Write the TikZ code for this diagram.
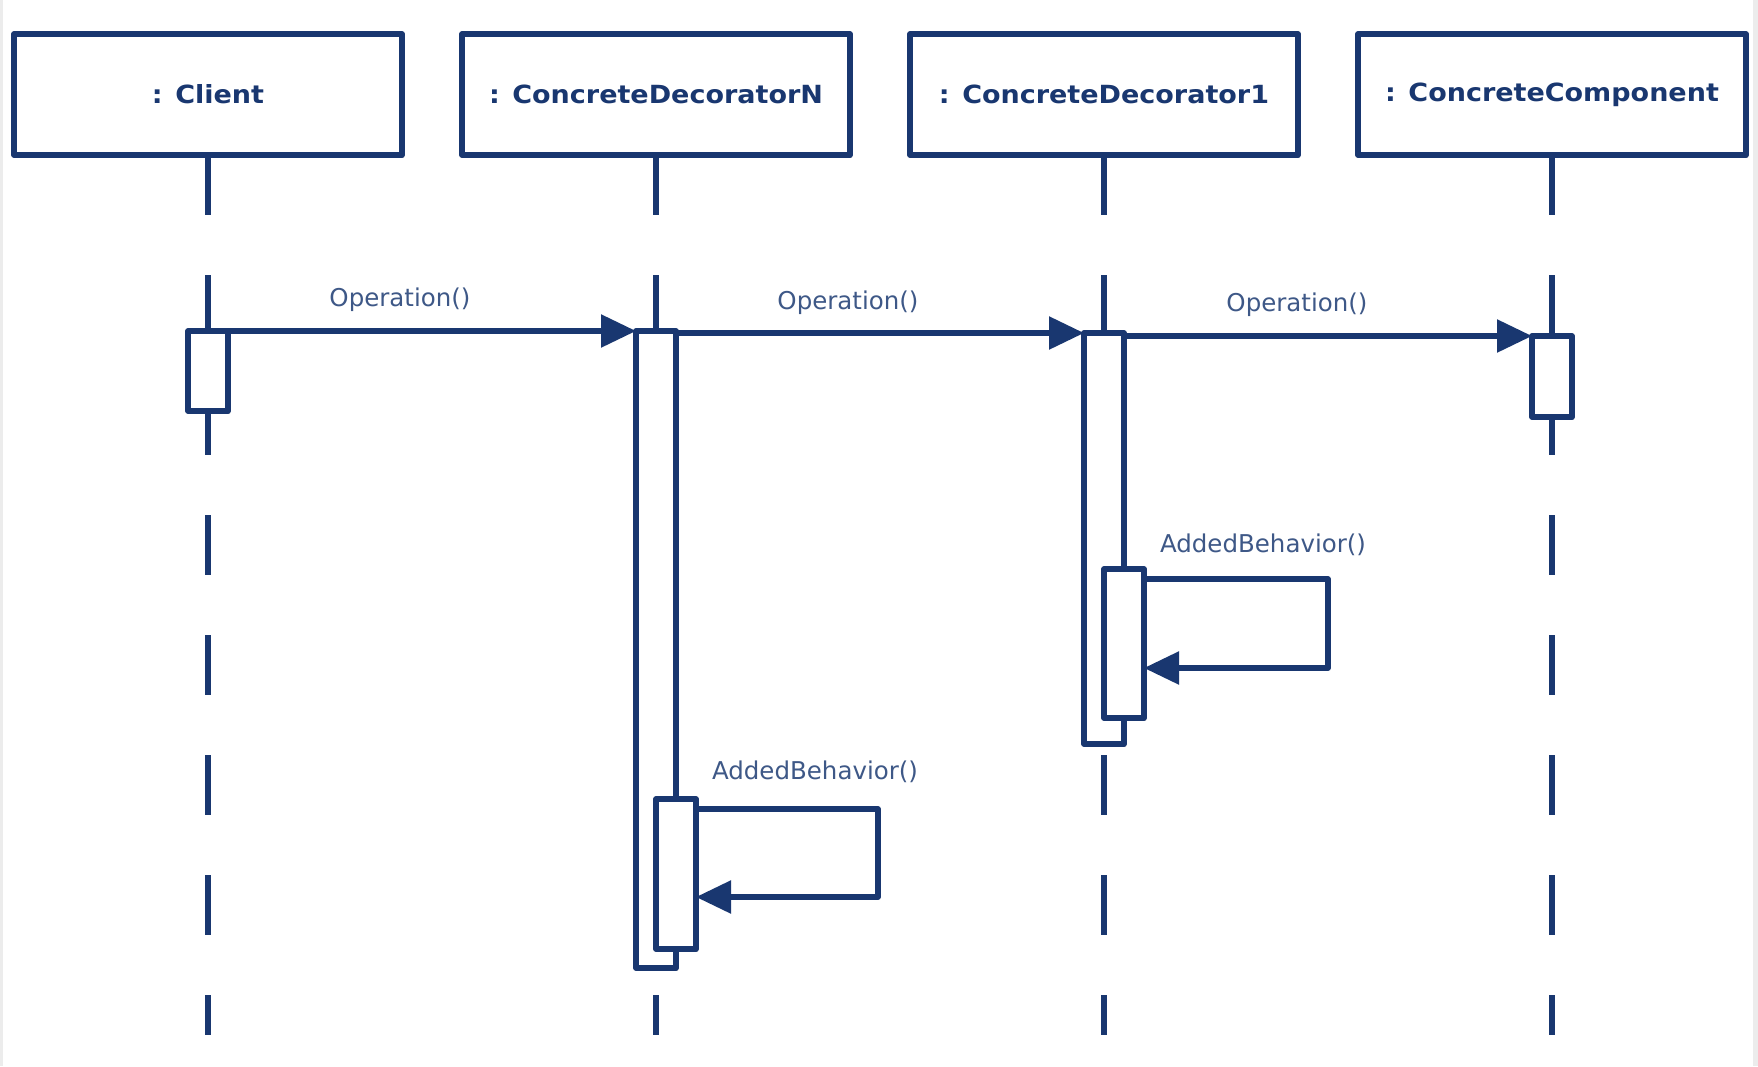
\documentclass[tikz,border=0pt]{standalone}
\usepackage{fontspec}
\setmainfont{DejaVu Sans}
\newfontfamily\headfont{DejaVu Sans}[FakeStretch=1.08]
\usetikzlibrary{arrows.meta,shadows}
\definecolor{navy}{RGB}{25,55,112}
\definecolor{labelc}{RGB}{62,88,135}
\definecolor{edgegray}{RGB}{236,236,236}
\begin{document}
\begin{tikzpicture}[x=1pt,y=-1pt,
  lw/.style={line width=5.5pt},
  shad/.style={drop shadow={shadow xshift=2pt,shadow yshift=-2.5pt,opacity=0.18,fill=black}},
  head/.style={draw=navy, lw, fill=white, line join=round, shad,
    minimum width=388pt, minimum height=121pt, inner sep=0pt, outer sep=0pt,
    font=\headfont\bfseries\fontsize{25}{30}\selectfont, text=navy},
  act/.style={draw=navy, lw, fill=white, line join=round, shad,
    minimum width=40pt, inner sep=0pt, outer sep=0pt, anchor=north},
  lifeline/.style={draw=navy, lw, dash pattern=on 60pt off 60pt},
  msg/.style={draw=navy, lw, line join=round, -{Triangle[length=35pt,width=32pt]}},
  lbl/.style={font=\fontsize{24.5}{29}\selectfont, text=labelc, inner sep=0pt}
]
\useasboundingbox (0,0) rectangle (1758,1066);
\fill[edgegray] (0,0) rectangle (1758,1066);
\fill[white] (3,0) rectangle (1753,1066);

% heads
\node[head] (hC) at (208,94.5) {: Client};
\node[head] (hN) at (656,94.5) {: ConcreteDecoratorN};
\node[head] (hD) at (1104,94.5) {: ConcreteDecorator1};
\node[head] (hK) at (1552,94.5) {: ConcreteComponent};

% lifeline ends
\coordinate (eC) at (208,1035);
\coordinate (eN) at (656,1035);
\coordinate (eD) at (1104,1035);
\coordinate (eK) at (1552,1035);
\draw[lifeline] (hC.south) -- (eC);
\draw[lifeline] (hN.south) -- (eN);
\draw[lifeline] (hD.south) -- (eD);
\draw[lifeline] (hK.south) -- (eK);

% activations
\node[act, minimum height=80pt] (aC) at (208,331) {};
\node[act, minimum height=637pt] (aN) at (656,331) {};
\node[act, minimum height=150pt] (aN2) at (676,799) {};
\node[act, minimum height=411pt] (aD) at (1104,333) {};
\node[act, minimum height=149pt] (aD2) at (1124,569) {};
\node[act, minimum height=81pt] (aK) at (1552,336) {};

% messages
\draw[msg] (aC.east |- aN.north) -- (aN.north west);
\draw[msg] (aN.east |- aD.north) -- (aD.north west);
\draw[msg] (aD.east |- aK.north) -- (aK.north west);

% self messages
\coordinate (nA) at (878,809);
\coordinate (nB) at (878,897);
\draw[msg] (aN2.east |- nA) -- (nA) -- (nB) -- (aN2.east |- nB);
\coordinate (dA) at (1328,579);
\coordinate (dB) at (1328,668);
\draw[msg] (aD2.east |- dA) -- (dA) -- (dB) -- (aD2.east |- dB);

% labels
\node[lbl] (l1) at (400,300) {Operation()};
\node[lbl] (l2) at (848,303) {Operation()};
\node[lbl] (l3) at (1297,305) {Operation()};
\node[lbl] (l4) at (1263,545) {AddedBehavior()};
\node[lbl] (l5) at (815,772) {AddedBehavior()};
\end{tikzpicture}
\end{document}
